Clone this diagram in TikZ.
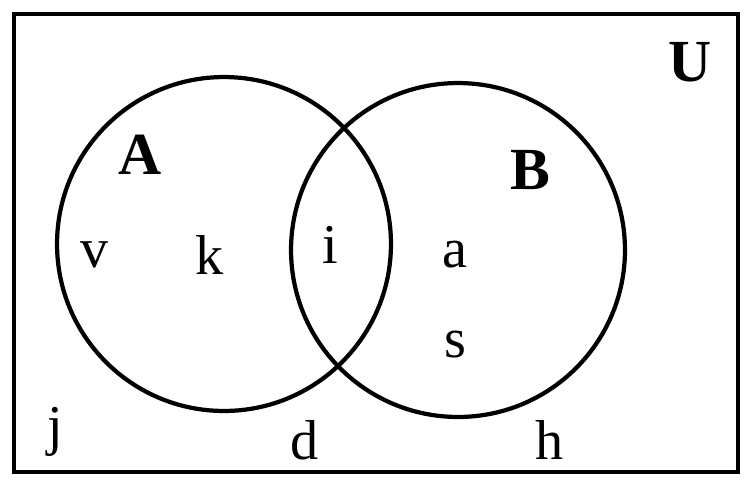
\documentclass[tikz,border=0pt]{standalone}
\usepackage{fontspec}
\setmainfont{Liberation Serif}
\usetikzlibrary{positioning}

\begin{document}
\begin{tikzpicture}[
  x=0.02cm,y=-0.02cm,
  font=\fontsize{32}{38}\selectfont,
  univ/.style={draw,line width=2pt,minimum width=14.48cm,minimum height=9.16cm,inner sep=0pt,outer sep=0pt},
  setcirc/.style={draw,circle,line width=2.4pt,minimum size=6.68cm,inner sep=0pt,outer sep=0pt},
  setname/.style={font=\fontsize{34}{40}\selectfont\bfseries},
  elem/.style={inner sep=0pt}
]
\useasboundingbox (0,0) rectangle (750,488);
\node[univ] (U) at (376,243) {};
\node[setcirc] (A) at (224,244) {};
\node[setcirc] (B) at (458,250) {};
% set names
\node[setname] (lu) at (690,62) {U};
\node[setname] (la) at (140,155) {A};
\node[setname] (lb) at (530,170) {B};
% elements
\node[elem] (v) at (95,255) {v};
\node[elem] (k) at (210,255) {k};
\node[elem] (i) at (330,245) {i};
\node[elem] (a) at (455,255) {a};
\node[elem] (s) at (455,345) {s};
\node[elem] (j) at (55,432) {j};
\node[elem] (d) at (305,440) {d};
\node[elem] (h) at (550,440) {h};
\end{tikzpicture}
\end{document}
